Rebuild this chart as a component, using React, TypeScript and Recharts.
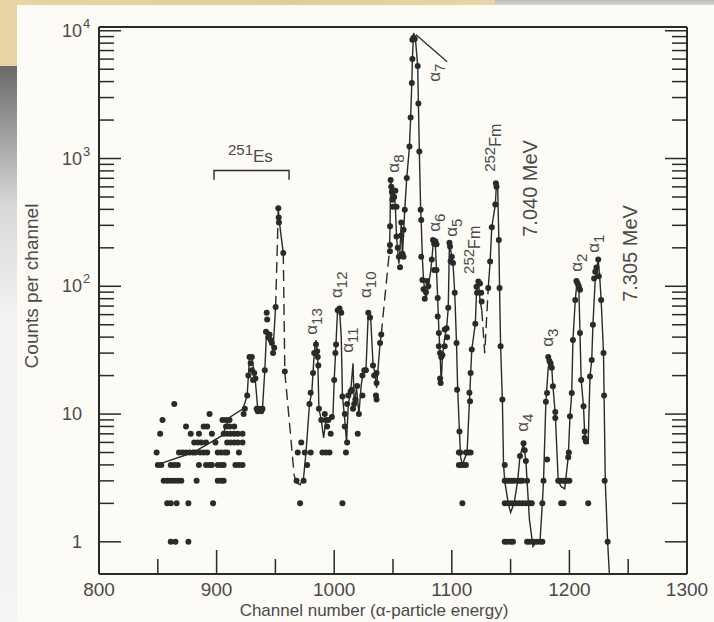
import React from 'react';
import { ComposedChart, XAxis, YAxis, Line, Scatter } from 'recharts';

type Pt = [number, number];

// axis ticks
const xMajorTicks = [800, 900, 1000, 1100, 1200, 1300];
const xMinorTicks = [850, 950, 1050, 1150, 1250];
const yMajorTicks = [1, 10, 100, 1000, 10000];
const yMinorTicks = [
  2, 3, 4, 5, 6, 7, 8, 9,
  20, 30, 40, 50, 60, 70, 80, 90,
  200, 300, 400, 500, 600, 700, 800, 900,
  2000, 3000, 4000, 5000, 6000, 7000, 8000, 9000,
];
const yTickExp: Record<number, [string, string]> = {
  1: ['1', ''],
  10: ['10', ''],
  100: ['10', '2'],
  1000: ['10', '3'],
  10000: ['10', '4'],
};

// measured points (channel, counts)
const noisePts: Pt[] = [
  [861, 1], [865, 1], [876, 1],
  [858, 2], [861, 2], [866, 2], [876, 2], [897, 2],
  [855, 3], [858, 3], [861, 3], [864, 3], [867, 3], [870, 3], [883, 3], [901, 3], [904, 3], [906, 3],
  [850, 4], [853, 4], [861, 4], [864, 4], [867, 4], [885, 4], [891, 4], [894, 4], [896, 4], [901, 4], [904, 4], [906, 4], [916, 4], [919, 4], [922, 4],
  [849, 5], [868, 5], [871, 5], [874, 5], [877, 5], [880, 5], [882, 5], [886, 5], [889, 5], [892, 5], [901, 5], [904, 5], [907, 5], [909, 5], [919, 5],
  [881, 6], [884, 6], [887, 6], [891, 6], [899, 6], [909, 6], [912, 6], [915, 6], [918, 6], [922, 6],
  [852, 7], [878, 7], [885, 7], [896, 7], [906, 7], [909, 7], [912, 7], [915, 7], [918, 7], [922, 7],
  [874, 8], [889, 8], [892, 8], [908, 8], [911, 8], [915, 8],
  [854, 9], [905, 9], [908, 9], [911, 9],
  [864, 12], [894, 10], [923, 10], [924, 11],
];

const esPts: Pt[] = [
  [926, 14], [927, 20], [928, 28], [929, 25], [930, 28], [930, 22], [931, 18.5], [932, 21], [933, 19],
  [934, 11], [935, 10.5], [936, 11], [938, 10.5], [939, 11],
  [941, 22], [942, 44], [942.6, 62], [943, 55], [944, 40], [945, 42], [946, 38], [947, 36], [948, 30], [949, 33],
  [950.2, 69], [952.5, 409], [952.8, 345], [953, 315], [956.7, 182], [958, 21.5],
  [968, 3], [974, 3], [971, 2], [972, 6], [969, 5], [975, 5], [980, 5], [977, 4],
];

const midPts: Pt[] = [
  [979, 12], [980, 14.7], [982, 21], [983, 30], [984.5, 35], [985.5, 31], [986, 28], [986.5, 24], [987, 11], [989, 9],
  [990, 5], [993, 5], [996, 5], [992, 10], [993, 9], [994, 8], [997, 7], [995, 9], [998, 9.5],
  [1000, 18.5], [1001, 30], [1001.6, 35], [1003, 65], [1004.5, 67], [1006, 62], [1007, 13.7], [1007, 2],
  [1009, 8], [1009, 10], [1010, 5], [1011, 6], [1011, 12], [1012, 14], [1014, 15], [1015, 15.5], [1016, 11],
  [1017, 12], [1018, 13], [1019.5, 16.6], [1020, 7], [1021, 10],
  [1024, 14], [1024, 20], [1025.6, 22], [1027, 22], [1029, 62], [1030.5, 57], [1033, 24], [1034, 20],
  [1035.5, 14], [1036, 21], [1036, 17.5], [1036, 13], [1039, 36], [1040, 42],
];

const alpha8Pts: Pt[] = [
  [1047.4, 188], [1047.4, 210], [1047.5, 295], [1048, 680], [1048.5, 600], [1049, 550], [1049.5, 475],
  [1050, 420], [1051, 500], [1052, 560], [1053, 420], [1053, 245], [1054, 200], [1055, 170], [1056, 141],
  [1057, 315], [1057, 250], [1058, 180], [1059, 170], [1059, 277], [1060, 398],
];

const alpha7Pts: Pt[] = [
  [1061.7, 705], [1064, 1240], [1065, 2090], [1066, 3900], [1066.5, 6000], [1066.5, 8500], [1067.5, 8800],
  [1068.5, 8600], [1071, 5300], [1071.6, 2700], [1072.4, 1135], [1073.5, 398], [1074, 330], [1074, 170],
  [1075, 112], [1076, 95], [1077, 80], [1078, 90], [1079, 110], [1080, 100],
];

const alpha65Pts: Pt[] = [
  [1083, 162], [1084, 230], [1085, 215], [1086, 225], [1087, 213], [1085, 134], [1087, 134], [1088, 81],
  [1088, 58], [1089, 43], [1089, 34], [1090, 30], [1091, 28], [1092, 29], [1090, 19], [1090.5, 17.5],
  [1094, 46], [1094, 34], [1095.6, 47], [1096, 40], [1097, 68], [1098, 219], [1098.5, 205], [1099, 157],
  [1100, 170], [1101, 152], [1102.5, 89], [1104, 36], [1104.5, 15.5], [1106.5, 7.3],
  [1106, 5], [1107, 5], [1106, 4], [1108, 4], [1110, 4], [1112, 4], [1109, 2], [1112, 5], [1114, 5], [1116, 5],
];

const fmPts: Pt[] = [
  [1115.5, 12.6], [1115, 14.7], [1116, 21], [1117, 32], [1120, 51], [1121, 99], [1122.6, 109], [1121.5, 89],
  [1124, 105], [1125, 89], [1125.4, 76],
  [1131, 97], [1132.6, 156], [1134, 290], [1137, 436], [1137.5, 640], [1138, 600], [1140, 230], [1140.6, 97],
  [1141.5, 34], [1143, 13],
];

const lowPts: Pt[] = [
  [1145, 4], [1145, 3], [1147, 3], [1149, 3], [1151, 3], [1153, 3], [1156, 3], [1158, 3], [1160, 3],
  [1145, 2], [1148, 2], [1151, 2], [1154, 2], [1157, 2], [1160, 2], [1163, 2], [1166, 2], [1168, 2],
  [1145, 1], [1147, 1], [1150, 1], [1152, 1],
  [1158, 4.7], [1161, 5.9], [1162, 5.2], [1163, 4.3], [1164, 3],
  [1164, 1], [1166, 1], [1169, 1], [1172, 1], [1175, 1], [1177, 1],
  [1177, 2], [1178, 3], [1181, 4.4], [1180, 12.5], [1181, 14.6],
];

const alpha321Pts: Pt[] = [
  [1182, 28], [1183, 26], [1184, 25], [1185, 23], [1186, 16.5], [1188, 10.4], [1188, 9.3], [1190.5, 3],
  [1192, 3], [1194, 3], [1196, 3], [1198, 3], [1200, 3], [1193, 2], [1195, 2],
  [1199, 4.6], [1199.5, 5], [1200.5, 9.6], [1202, 14.6], [1203, 38], [1205, 78], [1206, 110], [1207, 105],
  [1208, 100], [1209, 94], [1209, 43], [1210, 18.5], [1212, 11.5], [1213, 7.3], [1213, 6.5], [1214, 6.1], [1216, 2],
  [1217.5, 19.7], [1219, 26.5], [1220, 50], [1221, 115], [1222, 130], [1223, 140], [1224.5, 162], [1225, 120],
  [1227, 78], [1229, 30], [1229.5, 14], [1230, 3], [1232.5, 1],
];

// hand-drawn curve through the points
const trendLine: Pt[] = [
  [849, 4], [880, 5], [905, 6.8], [911, 9.4], [922.5, 11], [926, 14], [928, 28], [930, 28], [933, 18],
  [935, 11], [939, 11], [941, 22], [942.5, 45], [946, 38], [948, 32], [950.2, 69],
];
const esRise: Pt[] = [[950.2, 69], [952.5, 409]];
const esTop: Pt[] = [[952.5, 409], [953, 340], [956.7, 182]];
const esFall: Pt[] = [[956.7, 182], [958, 21.5], [966, 3.3]];
const midCurve: Pt[] = [
  [966, 3.3], [968, 2.9], [971, 2.8], [974, 3.2], [976, 5], [979, 12], [981, 15], [982, 21], [983, 30],
  [984.5, 38], [986, 28], [987, 11], [989, 9], [991, 6.5], [993, 9], [997, 9.5], [999, 10], [1000, 18.5],
  [1001.5, 35], [1002.8, 64], [1004.5, 67], [1006, 40], [1007, 14], [1009, 9], [1010.5, 6], [1012, 12],
  [1014, 15], [1016, 25], [1017, 12], [1019, 16], [1021, 10], [1023, 17], [1025, 22], [1027, 22], [1029, 62],
  [1031, 57], [1033, 25], [1035, 20], [1036, 16], [1039, 36], [1040, 42],
];
const alpha8Rise: Pt[] = [[1040, 42], [1047, 190]];
const mainCurve: Pt[] = [
  [1047, 190], [1047.5, 295], [1048, 680], [1049.5, 480], [1050.5, 600], [1052, 420], [1053, 245], [1055, 150],
  [1056, 200], [1057, 315], [1058, 170], [1060, 400], [1061.7, 705], [1064, 1240], [1065, 2090], [1066, 3900],
  [1066.5, 6000], [1067.5, 9600], [1069, 8800], [1071, 5300], [1071.6, 2700], [1072.4, 1135], [1073.5, 400],
  [1074, 320], [1075, 166], [1076, 110], [1078, 80], [1080, 100], [1082, 130], [1083, 162], [1084.5, 230],
  [1086, 213], [1087, 134], [1088, 81], [1089, 45], [1090, 30], [1091, 17.5], [1092, 28], [1094, 40],
  [1095.6, 47], [1097, 68], [1098, 219], [1100, 170], [1101, 152], [1102.5, 89], [1104, 36], [1105, 15.5],
  [1106.5, 7.3], [1107.5, 4.6], [1109, 4], [1111, 4.5], [1113, 5], [1115, 12.6], [1117, 32], [1120, 51],
  [1121, 89], [1122.6, 109], [1124, 78], [1125.5, 65],
];
const fmDip: Pt[] = [[1125.5, 65], [1128, 30], [1131, 97]];
const tailCurve: Pt[] = [
  [1131, 97], [1132.6, 156], [1134, 290], [1137, 436], [1138, 640], [1139, 600], [1140, 230], [1140.6, 97],
  [1141.5, 34], [1143, 13], [1144, 4], [1145, 3], [1148, 2], [1150, 1.7], [1153, 2], [1156, 3], [1158, 4.7],
  [1161, 5.9], [1163, 4.3], [1164, 3], [1166, 1.5], [1169, 0.92], [1172, 1], [1175, 1], [1177, 2], [1178, 3],
  [1180, 12.5], [1182, 23], [1183.5, 27], [1185, 23], [1186, 16.5], [1188, 10], [1190.5, 3], [1193, 2.7],
  [1196, 2.6], [1199, 4.6], [1200.5, 9.6], [1202, 14.6], [1203, 38], [1205, 78], [1206.5, 110], [1208, 100],
  [1209, 43], [1210, 18.5], [1212, 11.5], [1213, 7], [1215, 6.2], [1216, 6], [1217.5, 19.7], [1219, 26.5],
  [1220, 50], [1222, 115], [1224.5, 162], [1226, 110], [1227, 78], [1229, 30], [1229.5, 14], [1230.5, 3],
  [1232.5, 1], [1234, 0.56],
];

// bracket over 251Es and leader line to alpha7
const esBracket: Pt[] = [[897.8, 682], [897.8, 805], [961.6, 805], [961.6, 682]];
const alpha7Leader: Pt[] = [[1069.6, 9300], [1096, 5720]];

// annotation anchors (channel, counts)
const peakLabels = [
  { ch: 985.4, n: 41.8, kind: 'alpha', sub: '13' },
  { ch: 1006.6, n: 81, kind: 'alpha', sub: '12' },
  { ch: 1016, n: 30.2, kind: 'alpha', sub: '11' },
  { ch: 1031.3, n: 81, kind: 'alpha', sub: '10' },
  { ch: 1055.1, n: 775, kind: 'alpha', sub: '8' },
  { ch: 1090, n: 3990, kind: 'alpha', sub: '7' },
  { ch: 1090, n: 267, kind: 'alpha', sub: '6' },
  { ch: 1104.4, n: 244, kind: 'alpha', sub: '5' },
  { ch: 1164.8, n: 7.26, kind: 'alpha', sub: '4' },
  { ch: 1186, n: 33.6, kind: 'alpha', sub: '3' },
  { ch: 1210.7, n: 130, kind: 'alpha', sub: '2' },
  { ch: 1225.2, n: 183, kind: 'alpha', sub: '1' },
  { ch: 1124, n: 125, kind: 'isotope', sub: '252' },
  { ch: 1141.6, n: 787, kind: 'isotope', sub: '252' },
  { ch: 1172.4, n: 244, kind: 'energy', sub: '7.040 MeV' },
  { ch: 1257.5, n: 75.6, kind: 'energy', sub: '7.305 MeV' },
  { ch: 909.7, n: 944, kind: 'es', sub: '251' },
];

const rows = (pts: Pt[]) => pts.map(([ch, n]) => ({ ch, n }));

const allPoints = rows([
  ...noisePts, ...esPts, ...midPts, ...alpha8Pts, ...alpha7Pts, ...alpha65Pts, ...fmPts, ...lowPts, ...alpha321Pts,
]);

const solidCurves = [trendLine, esTop, midCurve, mainCurve, tailCurve];
const dashedCurves = [esRise, esFall, alpha8Rise, fmDip];

const FONT = '"Liberation Sans", Arial, Helvetica, sans-serif';
const INK = '#2a2a2a';
const TEXT = '#4a4a4a';

const BottomTick = ({ x, y, payload }: any) => {
  const major = xMajorTicks.includes(payload.value);
  return (
    <g>
      <line x1={x} y1={y} x2={x} y2={y - (major ? 24 : 15)} stroke={INK} strokeWidth={1.5} />
      {major && (
        <text x={x} y={y + 22} textAnchor="middle" fontSize={19} fill={TEXT} fontFamily={FONT}>
          {payload.value}
        </text>
      )}
    </g>
  );
};

const TopTick = ({ x, y, payload }: any) => {
  const major = xMajorTicks.includes(payload.value);
  return <line x1={x} y1={y} x2={x} y2={y + (major ? 24 : 15)} stroke={INK} strokeWidth={1.5} />;
};

const LeftTick = ({ x, y, payload }: any) => {
  const lab = yTickExp[payload.value];
  return (
    <g>
      <line x1={x} y1={y} x2={x + (lab ? 22 : 15)} y2={y} stroke={INK} strokeWidth={1.5} />
      {lab && (
        <text x={x - 17} y={y + 6} textAnchor="end" fontSize={18} fill={TEXT} fontFamily={FONT}>
          {lab[0]}
        </text>
      )}
      {lab && lab[1] && (
        <text x={x - 16} y={y - 3} textAnchor="start" fontSize={13} fill={TEXT} fontFamily={FONT}>
          {lab[1]}
        </text>
      )}
    </g>
  );
};

const RightTick = ({ x, y, payload }: any) => {
  const major = yMajorTicks.includes(payload.value);
  return <line x1={x} y1={y} x2={x - (major ? 22 : 15)} y2={y} stroke={INK} strokeWidth={1.5} />;
};

const Dot = (p: any) => <circle cx={p.cx} cy={p.cy} r={3} fill={INK} />;

const PeakLabel = (p: any) => {
  const { cx, cy, payload } = p;
  const rot = `rotate(-90 ${cx} ${cy})`;
  if (payload.kind === 'alpha') {
    return (
      <text x={cx} y={cy} transform={rot} fontSize={17} fill={TEXT} fontFamily={FONT}>
        α<tspan dy={5} fontSize={15}>{payload.sub}</tspan>
      </text>
    );
  }
  if (payload.kind === 'isotope') {
    return (
      <text x={cx} y={cy} transform={rot} fontSize={16} fill={TEXT} fontFamily={FONT}>
        <tspan dy={-6} fontSize={15}>{payload.sub}</tspan>
        <tspan dy={6}>Fm</tspan>
      </text>
    );
  }
  if (payload.kind === 'energy') {
    return (
      <text x={cx} y={cy} transform={rot} fontSize={20} fill={TEXT} fontFamily={FONT}>
        {payload.sub}
      </text>
    );
  }
  return (
    <text x={cx} y={cy} fontSize={17} fill={TEXT} fontFamily={FONT}>
      <tspan dy={-7} fontSize={15}>{payload.sub}</tspan>
      <tspan dy={7}>Es</tspan>
    </text>
  );
};

const App: React.FC = () => {
  return (
    <div style={{ position: 'absolute', left: 0, top: 0, width: 714, height: 622, overflow: 'hidden', background: '#efefef' }}>
      {/* page photo backdrop */}
      <div style={{ position: 'absolute', left: 0, top: 0, width: 495, height: 66, background: 'linear-gradient(90deg, #e9d4a6, #e2cc9a 60%, #e8d5a9)' }} />
      <div style={{ position: 'absolute', left: 495, top: 0, width: 219, height: 8, background: 'linear-gradient(180deg, #b9b9b9, #e6e6e6)' }} />
      <div style={{ position: 'absolute', left: 0, top: 66, width: 17, height: 556, background: 'linear-gradient(180deg, #6a6a6a 0%, #d8d8d8 25%, #f2f2f2 45%, #f4f4f4 100%)' }} />
      <div style={{ position: 'absolute', left: 17, top: 5, width: 697, height: 617, background: '#fcfbf6' }} />

      <div style={{ position: 'absolute', left: 0, top: 0 }}>
        <ComposedChart width={714} height={622} margin={{ top: 26, right: 26, bottom: 8, left: 39 }}>
          <XAxis
            xAxisId="bot" dataKey="ch" type="number" domain={[800, 1300]} allowDataOverflow
            ticks={[...xMajorTicks, ...xMinorTicks]} interval={0} height={40}
            tickSize={0} tickMargin={0} tickLine={false} tick={<BottomTick />}
            axisLine={{ stroke: INK, strokeWidth: 2 }}
          />
          <XAxis
            xAxisId="top" orientation="top" type="number" domain={[800, 1300]} allowDataOverflow
            ticks={[...xMajorTicks, ...xMinorTicks]} interval={0} height={1}
            tickSize={0} tickMargin={0} tickLine={false} tick={<TopTick />}
            axisLine={{ stroke: INK, strokeWidth: 2 }}
          />
          <YAxis
            yAxisId="left" dataKey="n" type="number" scale="log" domain={[0.56, 10700]} allowDataOverflow
            ticks={[...yMajorTicks, ...yMinorTicks]} interval={0} width={60}
            tickSize={0} tickMargin={0} tickLine={false} tick={<LeftTick />}
            axisLine={{ stroke: INK, strokeWidth: 2 }}
          />
          <YAxis
            yAxisId="right" orientation="right" type="number" scale="log" domain={[0.56, 10700]} allowDataOverflow
            ticks={[...yMajorTicks, ...yMinorTicks]} interval={0} width={1}
            tickSize={0} tickMargin={0} tickLine={false} tick={<RightTick />}
            axisLine={{ stroke: INK, strokeWidth: 2 }}
          />

          {solidCurves.map((c, i) => (
            <Line
              key={'s' + i} xAxisId="bot" yAxisId="left" data={rows(c)} dataKey="n" type="linear"
              stroke={INK} strokeWidth={1.4} dot={false} activeDot={false} isAnimationActive={false}
            />
          ))}
          {dashedCurves.map((c, i) => (
            <Line
              key={'d' + i} xAxisId="bot" yAxisId="left" data={rows(c)} dataKey="n" type="linear"
              stroke={INK} strokeWidth={1.4} strokeDasharray="11 6" dot={false} activeDot={false}
              isAnimationActive={false}
            />
          ))}
          <Line
            xAxisId="bot" yAxisId="left" data={rows(esBracket)} dataKey="n" type="linear"
            stroke={INK} strokeWidth={1.4} dot={false} activeDot={false} isAnimationActive={false}
          />
          <Line
            xAxisId="bot" yAxisId="left" data={rows(alpha7Leader)} dataKey="n" type="linear"
            stroke={INK} strokeWidth={1.2} dot={false} activeDot={false} isAnimationActive={false}
          />

          <Scatter xAxisId="bot" yAxisId="left" data={allPoints} shape={<Dot />} isAnimationActive={false} />
          <Scatter xAxisId="bot" yAxisId="left" data={peakLabels} shape={<PeakLabel />} isAnimationActive={false} />
        </ComposedChart>
      </div>

      <div
        style={{
          position: 'absolute', left: 32, top: 286, transform: 'translate(-50%, -50%) rotate(-90deg)',
          whiteSpace: 'nowrap', fontFamily: FONT, fontSize: 19, color: TEXT,
        }}
      >
        Counts per channel
      </div>
      <div
        style={{
          position: 'absolute', left: 374, top: 610, transform: 'translate(-50%, -50%)',
          whiteSpace: 'nowrap', fontFamily: FONT, fontSize: 17, lineHeight: '17px', color: TEXT,
        }}
      >
        Channel number (α-particle energy)
      </div>
    </div>
  );
};

export default App;
